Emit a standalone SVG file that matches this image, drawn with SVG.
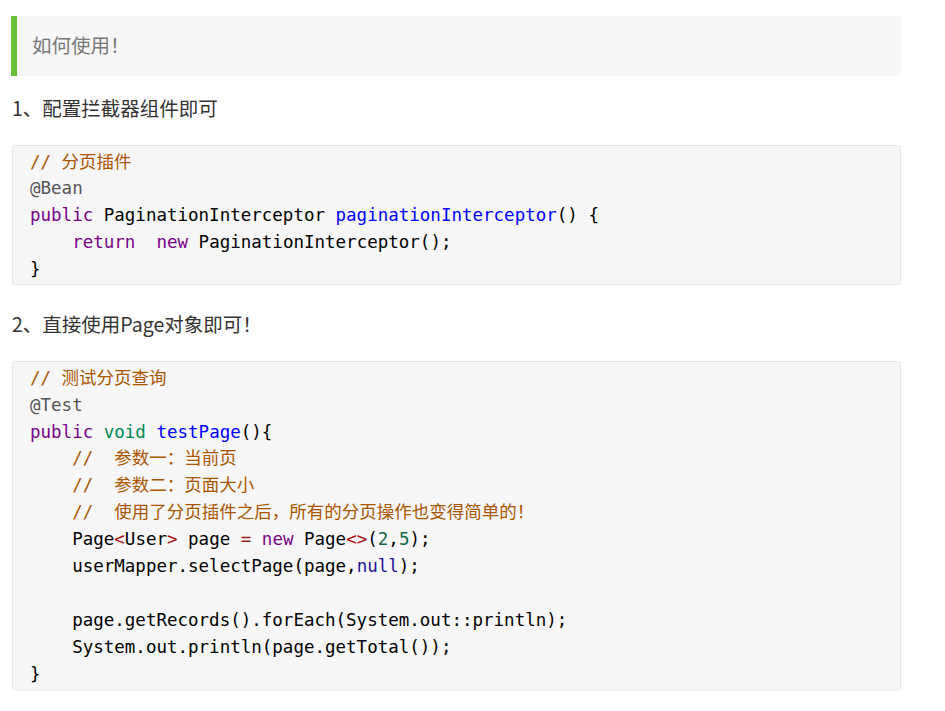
<svg xmlns="http://www.w3.org/2000/svg" width="945" height="711" viewBox="0 0 945 711">
<style>
.p{font-family:"Noto Sans CJK SC","Liberation Sans",sans-serif;font-size:19.5px;fill:#333}
.q{font-family:"Noto Sans CJK SC","Liberation Sans",sans-serif;font-size:19.5px;fill:#777}
.c{font-family:"DejaVu Sans Mono","Noto Sans CJK SC",monospace;font-size:17.5px;fill:#000;white-space:pre}
.box{fill:#f7f7f7;stroke:#e6e6e6;stroke-width:1}
.cm{fill:#aa5500}.kw{fill:#770088}.df{fill:#0000ff}.mt{fill:#555555}.ty{fill:#008855}.op{fill:#981a1a}.br{fill:#aa1111}.nm{fill:#116644}.at{fill:#221199}
</style>
<rect width="945" height="711" fill="#ffffff"/>
<g id="quote">
<rect x="11" y="16" width="890" height="60" fill="#f7f7f7"/>
<rect x="11" y="16" width="6" height="60" fill="#67c23a"/>
<text class="q" x="32" y="53">如何使用！</text>
</g>
<text class="p" x="12" y="115.5">1、配置拦截器组件即可</text>
<g id="code1">
<rect class="box" x="12.5" y="145.5" width="888" height="139" rx="3"/>
<text class="c" x="30" y="167.5"><tspan class="cm">// 分页插件</tspan></text>
<text class="c" x="30" y="194.4"><tspan class="mt">@Bean</tspan></text>
<text class="c" x="30" y="221.3"><tspan class="kw">public</tspan> PaginationInterceptor <tspan class="df">paginationInterceptor</tspan>() {</text>
<text class="c" x="30" y="248.2">    <tspan class="kw">return</tspan>  <tspan class="kw">new</tspan> PaginationInterceptor();</text>
<text class="c" x="30" y="275">}</text>
</g>
<text class="p" x="12" y="331.5">2、直接使用Page对象即可！</text>
<g id="code2">
<rect class="box" x="12.5" y="361.5" width="888" height="328.5" rx="3"/>
<text class="c" x="30" y="383.7"><tspan class="cm">// 测试分页查询</tspan></text>
<text class="c" x="30" y="410.6"><tspan class="mt">@Test</tspan></text>
<text class="c" x="30" y="437.5"><tspan class="kw">public</tspan> <tspan class="ty">void</tspan> <tspan class="df">testPage</tspan>(){</text>
<text class="c" x="30" y="464.4">    <tspan class="cm">//  参数一：当前页</tspan></text>
<text class="c" x="30" y="491.3">    <tspan class="cm">//  参数二：页面大小</tspan></text>
<text class="c" x="30" y="518.2">    <tspan class="cm">//  使用了分页插件之后，所有的分页操作也变得简单的！</tspan></text>
<text class="c" x="30" y="545.1">    Page<tspan class="br">&lt;</tspan>User<tspan class="br">&gt;</tspan> page <tspan class="op">=</tspan> <tspan class="kw">new</tspan> Page<tspan class="br">&lt;&gt;</tspan>(<tspan class="nm">2</tspan>,<tspan class="nm">5</tspan>);</text>
<text class="c" x="30" y="572">    userMapper.selectPage(page,<tspan class="at">null</tspan>);</text>
<text class="c" x="30" y="625.8">    page.getRecords().forEach(System.out::println);</text>
<text class="c" x="30" y="652.7">    System.out.println(page.getTotal());</text>
<text class="c" x="30" y="679.6">}</text>
</g>
</svg>
